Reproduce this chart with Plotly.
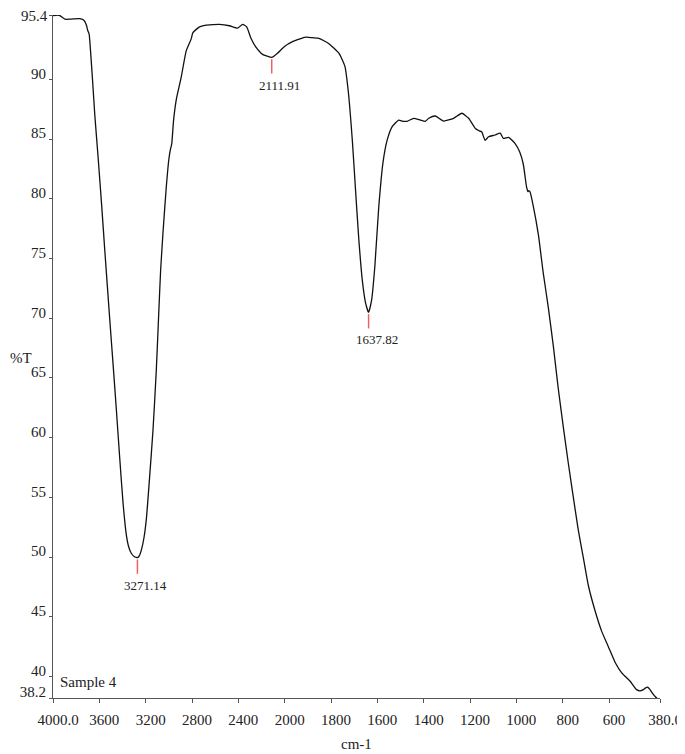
import plotly.graph_objects as go

# ---- data (wavenumber cm-1, %T) ----
wavenumber = [4000, 3960, 3940, 3897, 3850, 3768, 3739, 3725, 3710, 3700, 3688, 3676, 3659, 3639, 3610,
              3581, 3553, 3510, 3481, 3452, 3424, 3395, 3366, 3345, 3323, 3300, 3280, 3271, 3255, 3237,
              3215, 3194, 3166,
              3137, 3108, 3086, 3071, 3051, 3022, 3000, 2985, 2975, 2959, 2936, 2893, 2850, 2807, 2793,
              2750, 2735, 2678, 2620, 2563, 2477, 2406, 2363, 2329, 2291, 2248, 2191, 2150, 2112, 2062,
              2004, 1966, 1909, 1880, 1852, 1809, 1766, 1740, 1726, 1708, 1694, 1680, 1665, 1651, 1638,
              1625, 1611, 1594, 1576, 1558, 1536, 1508, 1490, 1472, 1443, 1414, 1393, 1378, 1350, 1314,
              1271, 1235, 1206, 1177, 1160, 1149, 1135, 1120, 1092, 1070, 1056, 1034, 1006, 985, 970,
              956, 950, 946, 941, 927, 905, 884, 862, 840, 819, 797, 776, 754, 733, 711, 689, 661, 632,
              603, 574, 545, 509, 481, 466, 452, 442, 433, 423, 416, 400, 385, 380]
transmittance = [95.35, 95.4, 95.35, 95.05, 95.05, 95.1, 95.0, 94.85, 94.5, 94.1, 93.8, 92.4, 90.0, 87.0, 83.4,
                 79.6, 75.7, 69.9, 66.1, 62.2, 58.3, 54.5, 51.8, 50.8, 50.3, 50.05, 49.97, 49.95, 50.1, 50.6,
                 51.6, 53.2, 56.7,
                 60.6, 65.7, 70.7, 74.0, 77.1, 81.0, 83.3, 84.2, 84.6, 86.6, 88.3, 90.2, 92.4, 93.4, 93.9,
                 94.3, 94.4, 94.56, 94.6, 94.62, 94.5, 94.3, 94.62, 94.42, 93.45, 92.7, 92.1, 91.95, 91.85, 92.2,
                 92.75, 93.17, 93.55, 93.5, 93.45, 93.0, 92.2, 91.1, 89.1, 84.9, 80.7, 76.6, 73.2, 71.3, 70.5,
                 71.5, 74.3, 79.3, 83.0, 84.9, 86.05, 86.6, 86.5, 86.5, 86.75, 86.6, 86.5, 86.75, 86.94, 86.52,
                 86.75, 87.17, 86.75, 85.9, 85.7, 85.6, 84.9, 85.2, 85.35, 85.5, 85.07, 85.15, 84.65, 83.9, 82.9,
                 81.0, 80.6, 80.7, 80.6, 79.4, 77.0, 73.8, 70.9, 67.6, 64.1, 60.85, 57.9, 55.0, 52.3, 49.96, 47.6, 45.55, 43.8,
                 42.5, 41.2, 40.3, 39.6, 38.9, 38.8, 38.9, 39.05, 39.1, 38.9, 38.7, 38.3, 38.05, 38.0]

peak_positions = [3271.14, 2111.91, 1637.82]
peak_minima = [49.95, 91.85, 70.5]

x_tick_values = [4000, 3600, 3200, 2800, 2400, 2000, 1800, 1600, 1400, 1200, 1000, 800, 600, 380]
x_tick_labels = ["4000.0", "3600", "3200", "2800", "2400", "2000", "1800", "1600", "1400",
                 "1200", "1000", "800", "600", "380.0"]
y_tick_values = [38.2, 40, 45, 50, 55, 60, 65, 70, 75, 80, 85, 90, 95.4]
y_tick_labels = ["38.2", "40", "45", "50", "55", "60", "65", "70", "75", "80", "85", "90", "95.4"]
y_top_label = "95.4"


# FTIR instrument axis: scale doubles below 2000 cm-1
def to_axis(w):
    return 4000 - w if w >= 2000 else 2000 + 2 * (2000 - w)


FONT = "Liberation Serif, Times New Roman, serif"

fig = go.Figure()
fig.add_trace(go.Scatter(
    x=[to_axis(w) for w in wavenumber], y=transmittance, mode="lines",
    line=dict(color="#111111", width=1.3, shape="spline", smoothing=0.5),
    hoverinfo="skip", showlegend=False))

shapes = []
annotations = []
for p, m in zip(peak_positions, peak_minima):
    shapes.append(dict(type="line", xref="x", yref="y", x0=to_axis(p), x1=to_axis(p),
                       y0=m - 0.15, y1=m - 1.35, line=dict(color="#f06060", width=1.5)))
    annotations.append(dict(xref="x", yref="y", x=to_axis(p), y=m - 1.35, text=f"{p:.2f}",
                            showarrow=False, xanchor="center", yanchor="top", xshift=8, yshift=-2,
                            font=dict(family=FONT, size=13, color="#222")))

# top tick label drawn as annotation so it is not hidden at the page edge
annotations.append(dict(xref="paper", yref="y", x=0, y=y_tick_values[-1], text=y_top_label,
                        showarrow=False, xanchor="right", yanchor="middle", xshift=-3, yshift=-1,
                        font=dict(family=FONT, size=15, color="#222")))
annotations.append(dict(xref="paper", yref="paper", x=0, y=0, text="Sample 4", showarrow=False,
                        xanchor="left", yanchor="middle", xshift=5, yshift=16,
                        font=dict(family=FONT, size=15, color="#222")))
annotations.append(dict(xref="paper", yref="paper", x=0, y=0.5, text="%T", showarrow=False,
                        xanchor="left", yanchor="middle", xshift=-45, yshift=-1,
                        font=dict(family=FONT, size=15, color="#222")))
annotations.append(dict(xref="paper", yref="paper", x=0.5, y=0, text="cm-1", showarrow=False,
                        xanchor="center", yanchor="middle", yshift=-46,
                        font=dict(family=FONT, size=15, color="#222")))

fig.update_layout(
    width=677, height=746,
    margin=dict(l=45, r=25, t=7, b=56, autoexpand=False),
    paper_bgcolor="white", plot_bgcolor="white",
    shapes=shapes, annotations=annotations,
    xaxis=dict(range=[0, to_axis(380)], tickmode="array", automargin=False,
               tickvals=[to_axis(v) for v in x_tick_values], ticktext=x_tick_labels,
               showgrid=False, zeroline=False, showline=True, linecolor="#555", linewidth=1,
               ticks="outside", ticklen=4, tickcolor="#555", ticklabelshift=5, ticklabelstandoff=4,
               ticklabeloverflow="allow",
               tickfont=dict(family=FONT, size=15, color="#222")),
    yaxis=dict(range=[38.2, 95.4], tickmode="array", tickvals=y_tick_values,
               ticktext=y_tick_labels[:-1] + [""],
               automargin=False,
               showgrid=False, zeroline=False, showline=True, linecolor="#555", linewidth=1,
               ticks="outside", ticklen=3, tickcolor="#555", ticklabelshift=-6, ticklabelstandoff=0,
               tickfont=dict(family=FONT, size=15, color="#222")),
)

fig.write_html("out.html")
